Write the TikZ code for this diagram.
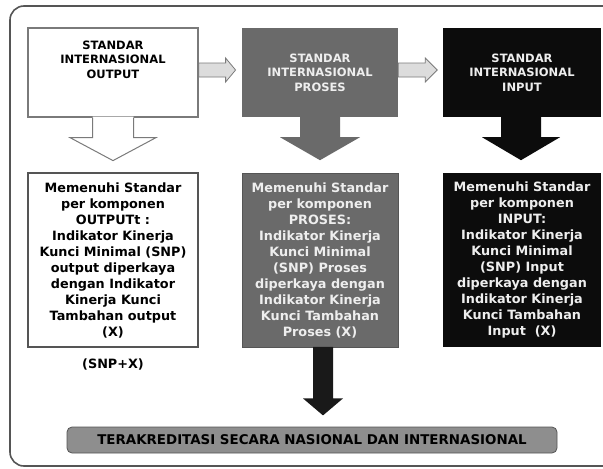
\documentclass[tikz,border=0pt]{standalone}
\usepackage{fontspec}
\setmainfont{DejaVu Sans}
\usetikzlibrary{calc}
\definecolor{framecol}{HTML}{555555}
\definecolor{midgray}{HTML}{6A6A6A}
\definecolor{nearblack}{HTML}{0C0C0C}
\definecolor{lightfill}{HTML}{DCDCDC}
\definecolor{outlinegray}{HTML}{7A7A7A}
\definecolor{bargray}{HTML}{8E8E8E}
\definecolor{lighttext}{HTML}{EEEEEE}
\begin{document}
\begin{tikzpicture}[x=1pt,y=-1pt,
  topbox/.style={rectangle, minimum width=#1, minimum height=89pt, inner sep=0pt, align=center,
     font=\bfseries\fontsize{11.5}{14.5}\selectfont},
  botbox/.style={rectangle, minimum width=#1, minimum height=174pt, inner sep=0pt, align=center,
     font=\bfseries\fontsize{12.8}{16}\selectfont},
  rarrow/.style={fill=lightfill, draw=outlinegray, line width=0.8pt, line join=miter},
  plaintext/.style={inner sep=0pt, align=center, font=\bfseries\fontsize{12.8}{16}\selectfont}
]
\useasboundingbox (0,0) rectangle (603,469);
\fill[white] (0,0) rectangle (603,469);
% outer frame
\draw[framecol, line width=1.6pt, rounded corners=14pt] (10,6) rectangle (620,466);

% top boxes
\node[topbox=170pt, draw=outlinegray, line width=1.2pt, fill=white] (b1) at (113,72.5) {};
\node[inner sep=0pt, align=center, font=\bfseries\fontsize{11.5}{14.5}\selectfont] (t1) at (113,59.5) {STANDAR\\INTERNASIONAL\\OUTPUT};
\node[topbox=156pt, fill=midgray, text=lighttext] (b2) at (320,72.5) {STANDAR\\INTERNASIONAL\\PROSES};
\node[topbox=158pt, fill=nearblack, text=lighttext] (b3) at (522,72.5) {STANDAR\\INTERNASIONAL\\INPUT};

% right arrows
\filldraw[rarrow] ($(b1.east)+(0,-9.5)$) -- ++(27,0) -- ++(0,-5) -- ($(b1.east)+(37,-2.5)$)
  -- ($(b1.east)+(27,9.5)$) -- ++(0,-5) -- ($(b1.east)+(0,4.5)$) -- cycle;
\filldraw[rarrow] ($(b2.east)+(0,-9.5)$) -- ++(27,0) -- ++(0,-5) -- ($(b2.east)+(39,-2.5)$)
  -- ($(b2.east)+(27,9.5)$) -- ++(0,-5) -- ($(b2.east)+(0,4.5)$) -- cycle;

% bottom boxes
\node[botbox=170pt, draw=framecol, line width=1.6pt, fill=white] (b1b) at (113,260)
  {Memenuhi Standar\\per komponen\\OUTPUTt :\\Indikator Kinerja\\Kunci Minimal (SNP)\\output diperkaya\\dengan Indikator\\Kinerja Kunci\\Tambahan output\\(X)};
\node[botbox=156pt, fill=midgray, draw=framecol, line width=0.8pt, text=lighttext] (b2b) at (320,260)
  {Memenuhi Standar\\per komponen\\PROSES:\\Indikator Kinerja\\Kunci Minimal\\(SNP) Proses\\diperkaya dengan\\Indikator Kinerja\\Kunci Tambahan\\Proses (X)};
\node[botbox=158pt, fill=nearblack, text=lighttext] (b3b) at (522,260)
  {Memenuhi Standar\\per komponen\\INPUT:\\Indikator Kinerja\\Kunci Minimal\\(SNP) Input\\diperkaya dengan\\Indikator Kinerja\\Kunci Tambahan\\Input~ (X)};

% down arrow white
\fill[white] ($(b1.south)+(-20.5,-1)$) -- ++(0,21) -- ++(-22.5,0) -- ($(b1.south)+(0,43)$)
  -- ($(b1.south)+(43,20)$) -- ++(-22.5,0) -- ++(0,-21) -- cycle;
\draw[outlinegray, line width=1pt, line join=miter] ($(b1.south)+(-20.5,0)$) -- ++(0,20) -- ++(-22.5,0) -- ($(b1.south)+(0,43)$)
  -- ($(b1.south)+(43,20)$) -- ++(-22.5,0) -- ++(0,-20);
% down arrow gray
\fill[midgray] ($(b2.south)+(-20,-0.5)$) -- ++(0,20.5) -- ++(-20,0) -- ($(b2.south)+(0,43)$)
  -- ($(b2.south)+(40,20)$) -- ++(-20,0) -- ++(0,-20.5) -- cycle;
% down arrow black
\fill[nearblack] ($(b3.south)+(-21,-0.5)$) -- ++(0,20.5) -- ++(-19,0) -- ($(b3.south)+(-1,43)$)
  -- ($(b3.south)+(38,20)$) -- ++(-19,0) -- ++(0,-20.5) -- cycle;

% SNP+X label
\node[plaintext] (snp) at (113,364) {(SNP+X)};

% bottom bar
\node[rectangle, rounded corners=5pt, fill=bargray, draw=framecol, line width=0.8pt,
  minimum width=490pt, minimum height=26pt, inner sep=0pt,
  font=\bfseries\fontsize{13.4}{15}\selectfont] (bar) at (312,440)
  {TERAKREDITASI SECARA NASIONAL DAN INTERNASIONAL};

% black arrow to bar
\fill[black!90] ($(b2b.south)+(-7,-0.5)$) -- ++(0,51.5) -- ++(-10,0) -- ($(b2b.south)+(3,68)$)
  -- ($(b2b.south)+(23,51)$) -- ++(-10,0) -- ++(0,-51.5) -- cycle;
\end{tikzpicture}
\end{document}
